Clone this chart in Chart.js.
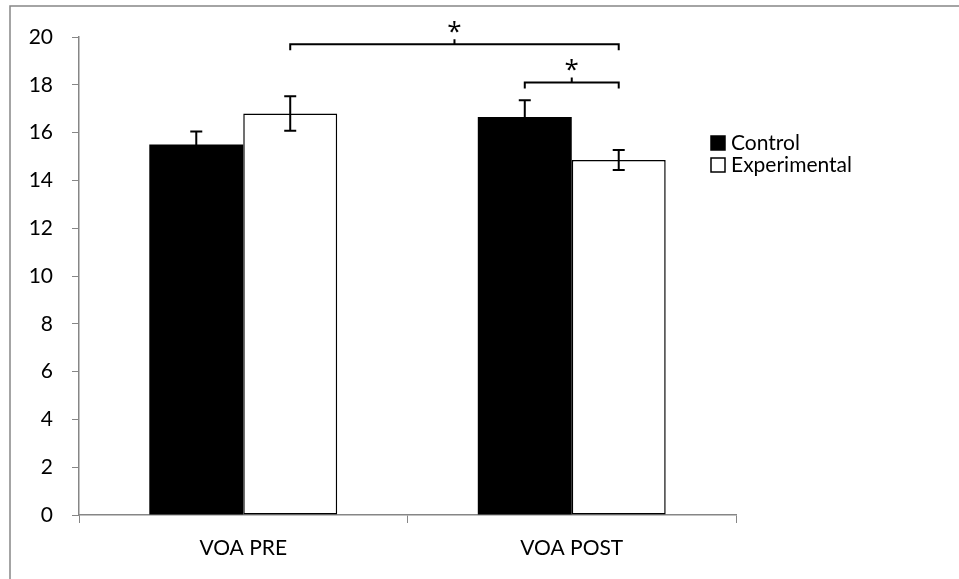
<!DOCTYPE html>
<html>
<head>
<meta charset="utf-8">
<script src="https://cdn.jsdelivr.net/npm/chart.js@4.4.0/dist/chart.umd.min.js"></script>
<style>
  html, body { margin: 0; padding: 0; background: #fff; }
  #wrap { width: 959px; height: 579px; position: relative; }
</style>
</head>
<body>
<div id="wrap"><canvas id="voaChart" width="959" height="579"></canvas></div>
<script>
const categories = ['VOA PRE', 'VOA POST'];
const controlValues = [15.5, 16.65];
const controlErrors = [0.55, 0.7];
const experimentalValues = [16.8, 14.85];
const experimentalErrors = [0.72, 0.42];
const yMin = 0, yMax = 20, yStep = 2;
// significance brackets: [datasetIndex, barIndex] pairs and bracket level on the y scale
const brackets = [
    { from: [1, 0], to: [1, 1], level: 19.7, label: '*' },
    { from: [0, 1], to: [1, 1], level: 18.1, label: '*' }
];

const FONT = 'Lato, "Open Sans", sans-serif';
const AXIS_GRAY = '#868686';

const frame = {
    id: 'frame',
    beforeDraw(chart) {
        const ctx = chart.ctx;
        ctx.save();
        ctx.fillStyle = '#fff';
        ctx.fillRect(0, 0, chart.width, chart.height);
        ctx.strokeStyle = AXIS_GRAY;
        ctx.lineWidth = 1.5;
        ctx.strokeRect(10, 6, chart.width + 20, chart.height + 20);
        ctx.restore();
    }
};

const errorBars = {
    id: 'errorBars',
    afterDatasetsDraw(chart) {
        const ctx = chart.ctx;
        const y = chart.scales.y;
        const errs = [controlErrors, experimentalErrors];
        ctx.save();
        ctx.strokeStyle = '#000';
        ctx.lineWidth = 2;
        chart.data.datasets.forEach((ds, di) => {
            chart.getDatasetMeta(di).data.forEach((bar, i) => {
                const v = ds.data[i], e = errs[di][i];
                const top = y.getPixelForValue(v + e);
                const bot = y.getPixelForValue(v - e);
                ctx.beginPath();
                ctx.moveTo(bar.x, top); ctx.lineTo(bar.x, bot);
                ctx.moveTo(bar.x - 6, top); ctx.lineTo(bar.x + 6, top);
                ctx.moveTo(bar.x - 6, bot); ctx.lineTo(bar.x + 6, bot);
                ctx.stroke();
            });
        });
        ctx.restore();
    }
};

const sigBrackets = {
    id: 'sigBrackets',
    afterDatasetsDraw(chart) {
        const ctx = chart.ctx;
        const y = chart.scales.y;
        ctx.save();
        ctx.strokeStyle = '#000';
        ctx.lineWidth = 2;
        brackets.forEach(b => {
            const x1 = chart.getDatasetMeta(b.from[0]).data[b.from[1]].x;
            const x2 = chart.getDatasetMeta(b.to[0]).data[b.to[1]].x;
            const yy = y.getPixelForValue(b.level);
            const mid = (x1 + x2) / 2;
            ctx.beginPath();
            ctx.moveTo(x1, yy + 6); ctx.lineTo(x1, yy); ctx.lineTo(x2, yy); ctx.lineTo(x2, yy + 6);
            ctx.moveTo(mid, yy); ctx.lineTo(mid, yy - 5);
            ctx.stroke();
            ctx.fillStyle = '#000';
            ctx.font = '26px "Open Sans", sans-serif';
            ctx.textAlign = 'center';
            ctx.textBaseline = 'alphabetic';
            ctx.fillText(b.label, mid, yy - 4);
        });
        ctx.restore();
    }
};

const sideLegend = {
    id: 'sideLegend',
    afterDraw(chart) {
        const ctx = chart.ctx;
        ctx.save();
        ctx.font = '21px ' + FONT;
        ctx.textBaseline = 'middle';
        chart.data.datasets.forEach((ds, i) => {
            const cy = 143 + i * 22;
            ctx.fillStyle = ds.backgroundColor;
            ctx.fillRect(711, cy - 7, 14, 14);
            ctx.strokeStyle = '#000';
            ctx.lineWidth = 1.5;
            ctx.strokeRect(711, cy - 7, 14, 14);
            ctx.fillStyle = '#000';
            ctx.fillText(ds.label, 731, cy);
        });
        ctx.restore();
    }
};

new Chart(document.getElementById('voaChart'), {
    type: 'bar',
    data: {
        labels: categories,
        datasets: [{
            label: 'Control',
            data: controlValues,
            backgroundColor: '#000',
            borderWidth: 0,
            barPercentage: 1,
            categoryPercentage: 0.572
        }, {
            label: 'Experimental',
            data: experimentalValues,
            backgroundColor: '#fff',
            borderColor: '#000',
            borderWidth: 1.5,
            borderSkipped: false,
            barPercentage: 1,
            categoryPercentage: 0.572
        }]
    },
    options: {
        responsive: false,
        animation: false,
        layout: { padding: { top: 37, right: 223, left: 0, bottom: 0 } },
        plugins: {
            legend: { display: false },
            tooltip: { enabled: false }
        },
        scales: {
            x: {
                grid: { drawOnChartArea: false, drawTicks: true, tickLength: 8, color: AXIS_GRAY, offset: true },
                border: { color: AXIS_GRAY, width: 1.5 },
                ticks: { color: '#000', font: { family: FONT, size: 21 }, padding: 13 },
                afterFit: s => { s.height = 64; }
            },
            y: {
                min: yMin,
                max: yMax,
                grid: { drawOnChartArea: false, drawTicks: true, tickLength: 7, color: AXIS_GRAY },
                border: { color: AXIS_GRAY, width: 1.5 },
                ticks: { stepSize: yStep, color: '#000', font: { family: FONT, size: 21 }, padding: 19 },
                afterFit: s => { s.width = 79; }
            }
        }
    },
    plugins: [frame, errorBars, sigBrackets, sideLegend]
});
</script>
</body>
</html>
